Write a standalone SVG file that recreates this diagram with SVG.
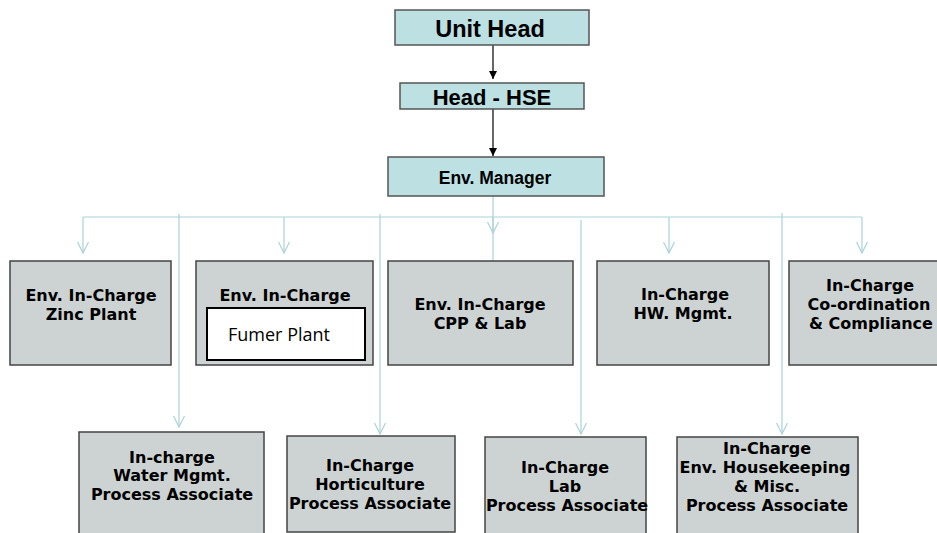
<svg xmlns="http://www.w3.org/2000/svg" width="937" height="533" viewBox="0 0 937 533">
<defs>
<marker id="ah" viewBox="0 0 10 10" refX="10" refY="5" markerWidth="8" markerHeight="8" orient="auto" markerUnits="userSpaceOnUse"><path d="M0,0 L10,5 L0,10 z" fill="#000"/></marker>
<marker id="av" viewBox="0 0 12 12" refX="11" refY="6" markerWidth="12" markerHeight="12" orient="auto" markerUnits="userSpaceOnUse"><path d="M0,0.5 L11,6 L0,11.5" fill="none" stroke="#a9d3d9" stroke-width="1.2"/></marker>
<style>
.top{fill:#bde0e3;stroke:#555;stroke-width:1.5}
.box{fill:#cdd3d3;stroke:#444;stroke-width:1.5}
.t1{font-family:"Liberation Sans",Arial,sans-serif;font-weight:bold;fill:#000;text-anchor:middle}
.t2{font-family:"DejaVu Sans",Verdana,sans-serif;font-weight:bold;font-size:16px;fill:#000;text-anchor:middle}
.blk{stroke:#000;stroke-width:1.2;fill:none}
.lb{stroke:#a9d3d9;stroke-width:1.2;fill:none}
</style>
</defs>
<g id="connectors">
<line class="blk" x1="493" y1="45" x2="493" y2="79" marker-end="url(#ah)"/>
<line class="blk" x1="493" y1="109" x2="493" y2="156" marker-end="url(#ah)"/>
<line class="lb" x1="493" y1="196" x2="493" y2="261"/>
<line class="lb" x1="83" y1="217" x2="862" y2="217"/>
<line class="lb" x1="83" y1="217" x2="83" y2="253" marker-end="url(#av)"/>
<line class="lb" x1="284" y1="217" x2="284" y2="253" marker-end="url(#av)"/>
<line class="lb" x1="493" y1="217" x2="493" y2="233" marker-end="url(#av)"/>
<line class="lb" x1="669" y1="217" x2="669" y2="253" marker-end="url(#av)"/>
<line class="lb" x1="862" y1="217" x2="862" y2="253" marker-end="url(#av)"/>
<line class="lb" x1="179" y1="214" x2="179" y2="427" marker-end="url(#av)"/>
<line class="lb" x1="380" y1="214" x2="380" y2="434" marker-end="url(#av)"/>
<line class="lb" x1="581" y1="220" x2="581" y2="434" marker-end="url(#av)"/>
<line class="lb" x1="782" y1="213" x2="782" y2="434" marker-end="url(#av)"/>
</g>
<g id="unit-head">
<rect class="top" x="395" y="10" width="194" height="35"/>
<text class="t1" x="490" y="37" font-size="23.5">Unit Head</text>
</g>
<g id="head-hse">
<rect class="top" x="400" y="83" width="184" height="26"/>
<text class="t1" x="492" y="105" font-size="22">Head - HSE</text>
</g>
<g id="env-manager">
<rect class="top" x="388" y="157" width="216" height="39"/>
<text class="t1" x="495" y="184" font-size="17.5">Env. Manager</text>
</g>
<g id="zinc">
<rect class="box" x="10" y="261" width="161" height="104"/>
<text class="t2" x="91" y="301">Env. In-Charge</text>
<text class="t2" x="91" y="320">Zinc Plant</text>
</g>
<g id="fumer">
<rect class="box" x="196" y="261" width="177" height="104"/>
<text class="t2" x="285" y="301">Env. In-Charge</text>
<rect x="207" y="308" width="158" height="52" fill="#fff" stroke="#000" stroke-width="2"/>
<text x="228" y="341" font-family="'Open Sans','DejaVu Sans',sans-serif" font-size="18" fill="#000">Fumer Plant</text>
</g>
<g id="cpp">
<rect class="box" x="388" y="261" width="185" height="104"/>
<text class="t2" x="480" y="310">Env. In-Charge</text>
<text class="t2" x="480" y="329">CPP &amp; Lab</text>
</g>
<g id="hw">
<rect class="box" x="597" y="261" width="172" height="104"/>
<text class="t2" x="685" y="300">In-Charge</text>
<text class="t2" x="683" y="319">HW. Mgmt.</text>
</g>
<g id="coord">
<rect class="box" x="789" y="261" width="160" height="104"/>
<text class="t2" x="870" y="291">In-Charge</text>
<text class="t2" x="869" y="310">Co-ordination</text>
<text class="t2" x="871" y="329">&amp; Compliance</text>
</g>
<g id="water">
<rect class="box" x="79" y="432" width="185" height="110"/>
<text class="t2" x="172" y="463">In-charge</text>
<text class="t2" x="172" y="481">Water Mgmt.</text>
<text class="t2" x="172" y="500">Process Associate</text>
</g>
<g id="horti">
<rect class="box" x="287" y="436" width="168" height="96"/>
<text class="t2" x="370" y="471">In-Charge</text>
<text class="t2" x="370" y="490">Horticulture</text>
<text class="t2" x="370" y="509">Process Associate</text>
</g>
<g id="lab">
<rect class="box" x="485" y="437" width="161" height="110"/>
<text class="t2" x="565" y="473">In-Charge</text>
<text class="t2" x="565" y="492">Lab</text>
<text class="t2" x="567" y="511">Process Associate</text>
</g>
<g id="housekeeping">
<rect class="box" x="677" y="437" width="181" height="110"/>
<text class="t2" x="767" y="454">In-Charge</text>
<text class="t2" x="765" y="473">Env. Housekeeping</text>
<text class="t2" x="767" y="492">&amp; Misc.</text>
<text class="t2" x="767" y="511">Process Associate</text>
</g>
</svg>
